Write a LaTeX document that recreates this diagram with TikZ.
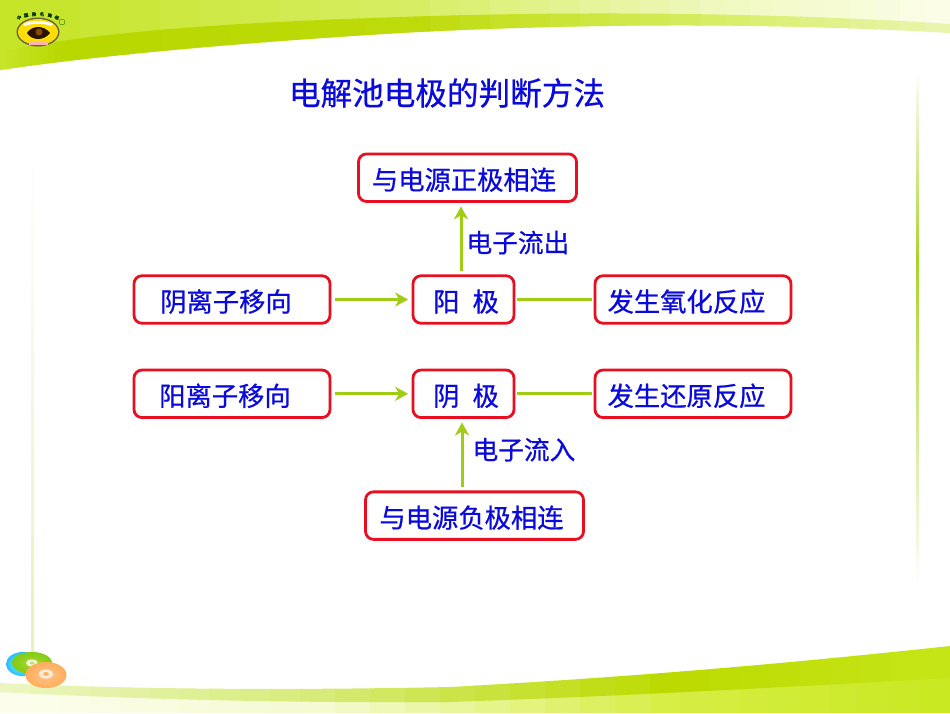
\documentclass[tikz,border=0pt]{standalone}
\usepackage{fontspec}
\setmainfont[FakeBold=0.7]{Noto Sans CJK SC}
\usetikzlibrary{arrows.meta, positioning, calc}
\definecolor{boxred}{RGB}{232,16,32}
\definecolor{textblue}{RGB}{10,10,220}
\definecolor{linkgreen}{RGB}{160,205,20}
\definecolor{skyA}{RGB}{198,228,40}
\definecolor{skyB}{RGB}{215,238,100}
\definecolor{skyC}{RGB}{240,248,190}
\definecolor{skyD}{RGB}{252,254,235}
\definecolor{bandA}{RGB}{184,216,0}
\definecolor{bandB}{RGB}{190,218,10}
\definecolor{bandC}{RGB}{215,238,100}
\definecolor{bandD}{RGB}{235,245,180}
\definecolor{lowA}{RGB}{252,254,235}
\definecolor{lowB}{RGB}{245,250,210}
\definecolor{lowC}{RGB}{215,238,70}
\definecolor{lowD}{RGB}{200,232,30}
\definecolor{lbandA}{RGB}{235,245,190}
\definecolor{lbandB}{RGB}{215,235,120}
\definecolor{lbandC}{RGB}{188,218,0}
\definecolor{lbandD}{RGB}{198,230,25}
% fill a clipped path with solid strips from one colour to the next
\newcommand{\stripfill}[2]{\begin{scope}
	\clip #1;
	\foreach \xa/\xb/\ca/\cb in {#2}{
		\foreach \k in {0,...,9}{
			\pgfmathsetmacro\pct{100-10*\k}
			\fill[\ca!\pct!\cb] ({\xa+(\xb-\xa)*\k/10},0) rectangle ({\xa+(\xb-\xa)*(\k+1)/10+1},713);
		}
	}
\end{scope}}

\begin{document}
\begin{tikzpicture}[x=1pt, y=-1pt, node distance = 44pt and 78.2pt,
	box/.style = {rectangle, rounded corners=8pt, draw=boxred, line width=2.8pt, fill=white, text=textblue,
		minimum height=47.5pt, inner sep=0pt, text height=26pt, text depth=2pt, font=\fontsize{26.3}{26}\selectfont},
	wide/.style = {box, minimum width=196pt},
	pole/.style = {box, minimum width=101pt},
	link/.style = {draw=linkgreen, line width=3pt, shorten >=3.5pt, shorten <=3.5pt},
	plainlink/.style = {link, shorten >=1.5pt, shorten <=1.5pt},
	arrowlink/.style = {link, -{Stealth[inset=4pt, length=13pt, width=14pt]}},
	tag/.style = {text=textblue, inner sep=0pt, font=\fontsize{25.7}{26}\selectfont}]
	\useasboundingbox (0,0) rectangle (950,713);
	% background
	\fill[white] (0,0) rectangle (950,713);
	\stripfill{(0,0) -- (950,0) -- (950,33) .. controls (800,24) and (600,22) .. (400,33)
		.. controls (250,42) and (100,55) .. (0,70) -- cycle}
		{0/400/skyA/skyB, 400/700/skyB/skyC, 700/950/skyC/skyD}
	\stripfill{(0,70) .. controls (100,55) and (250,42) .. (400,33) .. controls (600,22) and (800,24) .. (950,33)
		-- (950,24) .. controls (800,14) and (600,10) .. (400,17) .. controls (250,22) and (100,30) .. (0,52) -- cycle}
		{0/60/skyA/bandA, 60/400/bandA/bandB, 400/700/bandB/bandC, 700/950/bandC/bandD}
	\stripfill{(0,713) -- (950,713) -- (950,660) -- (450,695) -- (0,688) -- cycle}
		{0/300/lowA/lowB, 300/650/lowB/lowC, 650/950/lowC/lowD}
	\stripfill{(0,683) .. controls (150,690) and (300,690) .. (450,687) .. controls (650,676) and (800,662) .. (950,646)
		-- (950,678) .. controls (800,686) and (650,695) .. (450,702)
		.. controls (300,703) and (150,700) .. (0,692) -- cycle}
		{0/300/lbandA/lbandB, 300/650/lbandB/lbandC, 650/950/lbandC/lbandD}
	% side lines
	\fill[top color=white, bottom color=linkgreen!28!white, middle color=linkgreen!12!white] (31,135) rectangle (34,652);
	\fill[top color=white, bottom color=linkgreen!90!white] (916,70) rectangle (919,260);
	\fill[top color=linkgreen!90!white, bottom color=white] (916,260) rectangle (919,585);
	% logo
	\fill[black!70!yellow] (38,32) ellipse (21.5pt and 14.5pt);
	\fill[yellow!80!orange] (38,32) ellipse (20pt and 13pt);
	\fill[white] (23,24) .. controls (31,20) and (45,20) .. (53,24) -- (51,26) .. controls (44,23) and (32,23) .. (25,26) -- cycle;
	\fill[black!85!orange] (27,33) .. controls (32,25) and (44,25) .. (50,33) .. controls (44,41) and (32,41) .. (27,33) -- cycle;
	\fill[black!45!orange] (39,32) circle (3.5pt);
	\fill[white!70!red] (29,42) rectangle (48,45);
	\foreach \ch [count=\i from 0] in {中,国,驰,名,商,标}
		\node[inner sep=0pt, text=black!80!green, font=\fontsize{4.5}{5}\selectfont, rotate={20-8*\i}] (mark\i) at ({38+19*sin(-38+15.2*\i)/0.62},{31-17*cos(-38+15.2*\i)}) {\ch};
	\draw[black!60!green, line width=.3pt] (62,22) circle (3pt);
	% discs
	\shade[inner color=cyan!45!white, outer color=cyan!70!blue!85!white] (23,664) ellipse (17pt and 12pt);
	\shade[inner color=linkgreen!85!white, outer color=black!5!linkgreen!85!green] (32,663) ellipse (20pt and 11pt);
	\fill[white!85!linkgreen] (32,663) ellipse (6pt and 3.5pt);
	\fill[linkgreen!60!white] (32,663) ellipse (2.5pt and 1.5pt);
	\shade[inner color=orange!45!white, outer color=orange!65!white] (46,675) ellipse (20.5pt and 13pt);
	\fill[orange!15!white] (46,674) ellipse (7pt and 4.5pt);
	\fill[orange!60!white] (46,674) ellipse (3pt and 2pt);

	\node[text=textblue, font=\fontsize{31.6}{32}\selectfont, inner sep=0pt] (title) at (447,93) {电解池电极的判断方法};
	% middle rows
	\node[pole] (yang) at (463.5,299.5) {\kern5pt 阳\hspace{0.5em}极};
	\node[pole, below=of yang] (yin) {\kern5pt 阴\hspace{0.5em}极};
	\node[wide, left=of yang, xshift=-2pt] (anion) {阴离子移向\kern12pt};
	\node[wide, right=of yang] (oxid) {发生氧化反应\kern13pt};
	\node[wide, left=of yin, xshift=-2pt] (cation) {阳离子移向\kern14pt};
	\node[wide, right=of yin] (redu) {发生还原反应\kern13pt};
	\node[box, minimum width=218pt, above=71.5pt of yang, xshift=4pt] (plus) {与电源正极相连\kern7pt};
	\node[box, minimum width=218pt, below=71.5pt of yin, xshift=11pt] (minus) {与电源负极相连\kern6pt};
	% arrows between nodes
	\draw[arrowlink] (anion) -- (yang);
	\draw[plainlink] (yang) -- (oxid);
	\draw[arrowlink] (cation) -- (yin);
	\draw[plainlink] (yin) -- (redu);
	\draw[arrowlink] ([xshift=-2.5pt]yang.north) -- ([xshift=-2.5pt]yang.north |- plus.south)
		node[tag, midway, right=4pt, yshift=-4pt] (out) {电子流出};
	\draw[arrowlink] ([xshift=-1.5pt]minus.north -| yin.north) -- ([xshift=-1.5pt]yin.south)
		node[tag, midway, right=9pt, yshift=5pt] (in) {电子流入};
\end{tikzpicture}
\end{document}
